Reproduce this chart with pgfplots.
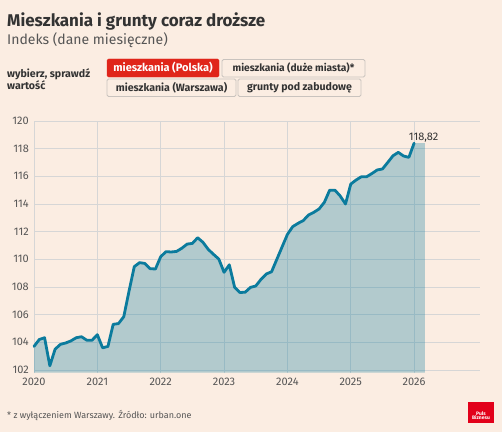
\documentclass[border=0pt]{standalone}
\usepackage{fontspec}
\setmainfont{Fira Sans}
\usepackage{pgfplots}
\pgfplotsset{compat=1.18}

\definecolor{bg}{HTML}{FBEDE2}
\definecolor{linec}{HTML}{0B7B9D}
\definecolor{gridc}{HTML}{D6D6D6}
\definecolor{txt}{HTML}{333333}
\definecolor{txtg}{HTML}{555555}
\definecolor{btnred}{HTML}{E0251A}
\definecolor{btnline}{HTML}{C9C3BE}
\definecolor{logored}{HTML}{E2001A}

% monthly index, Jan 2020 .. Jan 2026
\pgfplotstableread{
x y
2020.000 103.70
2020.083 104.20
2020.167 104.33
2020.250 102.30
2020.333 103.50
2020.417 103.85
2020.500 103.95
2020.583 104.10
2020.667 104.33
2020.750 104.40
2020.833 104.15
2020.917 104.15
2021.000 104.55
2021.083 103.60
2021.167 103.70
2021.250 105.30
2021.333 105.35
2021.417 105.85
2021.500 107.70
2021.583 109.47
2021.667 109.76
2021.750 109.70
2021.833 109.32
2021.917 109.30
2022.000 110.19
2022.083 110.55
2022.167 110.53
2022.250 110.57
2022.333 110.80
2022.417 111.10
2022.500 111.15
2022.583 111.56
2022.667 111.23
2022.750 110.72
2022.833 110.36
2022.917 110.02
2023.000 109.06
2023.083 109.60
2023.167 107.97
2023.250 107.60
2023.333 107.62
2023.417 107.97
2023.500 108.07
2023.583 108.55
2023.667 108.94
2023.750 109.10
2023.833 110.00
2023.917 110.91
2024.000 111.80
2024.083 112.36
2024.167 112.60
2024.250 112.80
2024.333 113.20
2024.417 113.40
2024.500 113.64
2024.583 114.12
2024.667 115.00
2024.750 115.00
2024.833 114.58
2024.917 114.00
2025.000 115.44
2025.083 115.73
2025.167 115.97
2025.250 115.97
2025.333 116.20
2025.417 116.46
2025.500 116.53
2025.583 117.00
2025.667 117.49
2025.750 117.73
2025.833 117.47
2025.917 117.37
2026.000 118.40
}\indeks

\begin{document}
\begin{tikzpicture}
\fill[bg] (0pt,0pt) rectangle (502pt,432pt);

% header
\node[anchor=base west, inner sep=0pt, text=txt, font=\fontsize{17}{20}\selectfont\bfseries] at (7pt,405pt) {Mieszkania i grunty coraz droższe};
\node[anchor=base west, inner sep=0pt, text=txtg, font=\fontsize{14}{17}\selectfont] at (7pt,387pt) {Indeks (dane miesięczne)};
\node[anchor=north west, inner sep=0pt, align=left, text=txt, font=\fontsize{10.6}{9}\selectfont\bfseries] at (7pt,364pt) {wybierz, sprawdź\\wartość};

% buttons
\begin{scope}[font=\fontsize{10.6}{12}\selectfont\bfseries]
\filldraw[btnred, rounded corners=1.5pt] (107pt,355pt) rectangle (219pt,373pt);
\node[text=white, font=\fontsize{11}{12}\selectfont\bfseries] at (163pt,364pt) {mieszkania (Polska)};
\draw[btnline, rounded corners=1.5pt, line width=0.8pt] (222pt,355pt) rectangle (365pt,372.5pt);
\node[text=txt, font=\fontsize{10.2}{12}\selectfont\bfseries] at (293.5pt,363.8pt) {mieszkania (duże miasta)*};
\draw[btnline, rounded corners=1.5pt, line width=0.8pt] (107pt,335.5pt) rectangle (236pt,353pt);
\node[text=txt] at (171.5pt,344.3pt) {mieszkania (Warszawa)};
\draw[btnline, rounded corners=1.5pt, line width=0.8pt] (238pt,335.5pt) rectangle (361pt,353pt);
\node[text=txt] at (299.5pt,344.3pt) {grunty pod zabudowę};
\end{scope}

\begin{axis}[
    at={(34pt,59.3pt)}, anchor=south west,
    width=446pt, height=251.7pt, scale only axis,
    xmin=2020, xmax=2027.04,
    ymin=101.8, ymax=120,
    axis line style={draw=none},
    major tick length=0pt,
    xtick={2020,...,2026},
    ytick={102,104,...,120},
    grid=major,
    grid style={gridc, line width=0.8pt},
    /pgf/number format/assume math mode=true,
    /pgf/number format/1000 sep={},
    ticklabel style={text=txtg, font=\fontsize{11}{13}\selectfont},
    yticklabel style={inner sep=0pt, xshift=-5pt},
    xticklabel style={inner sep=0pt, yshift=-5pt},
    clip=false,
]
\addplot[draw=none, fill=linec, fill opacity=0.3] coordinates {
    (2020.000,103.70) (2020.083,104.20) (2020.167,104.33) (2020.250,102.30)
    (2020.333,103.50) (2020.417,103.85) (2020.500,103.95) (2020.583,104.10)
    (2020.667,104.33) (2020.750,104.40) (2020.833,104.15) (2020.917,104.15)
    (2021.000,104.55) (2021.083,103.60) (2021.167,103.70) (2021.250,105.30)
    (2021.333,105.35) (2021.417,105.85) (2021.500,107.70) (2021.583,109.47)
    (2021.667,109.76) (2021.750,109.70) (2021.833,109.32) (2021.917,109.30)
    (2022.000,110.19) (2022.083,110.55) (2022.167,110.53) (2022.250,110.57)
    (2022.333,110.80) (2022.417,111.10) (2022.500,111.15) (2022.583,111.56)
    (2022.667,111.23) (2022.750,110.72) (2022.833,110.36) (2022.917,110.02)
    (2023.000,109.06) (2023.083,109.60) (2023.167,107.97) (2023.250,107.60)
    (2023.333,107.62) (2023.417,107.97) (2023.500,108.07) (2023.583,108.55)
    (2023.667,108.94) (2023.750,109.10) (2023.833,110.00) (2023.917,110.91)
    (2024.000,111.80) (2024.083,112.36) (2024.167,112.60) (2024.250,112.80)
    (2024.333,113.20) (2024.417,113.40) (2024.500,113.64) (2024.583,114.12)
    (2024.667,115.00) (2024.750,115.00) (2024.833,114.58) (2024.917,114.00)
    (2025.000,115.44) (2025.083,115.73) (2025.167,115.97) (2025.250,115.97)
    (2025.333,116.20) (2025.417,116.46) (2025.500,116.53) (2025.583,117.00)
    (2025.667,117.49) (2025.750,117.73) (2025.833,117.47) (2025.917,117.37)
    (2026.000,118.40) (2026.170,118.40)
} \closedcycle;
\addplot[linec, line width=2.8pt, line join=round, line cap=round] table[x=x, y=y] {\indeks};
\node[text=txt, font=\fontsize{11}{13}\selectfont] at (axis cs:2026.15,118.77) {118,82};
\end{axis}

% footer
\node[anchor=base west, inner sep=0pt, text=txtg, font=\fontsize{9}{11}\selectfont] at (7pt,14pt) {* z wyłączeniem Warszawy. Źródło: urban.one};
\fill[logored] (468pt,9.5pt) rectangle (494pt,30pt);
\node[text=white, font=\fontsize{5}{5}\selectfont\bfseries, align=center, inner sep=0pt] at (481pt,16pt) {Puls\\[-0.8pt]Biznesu};
\end{tikzpicture}
\end{document}
